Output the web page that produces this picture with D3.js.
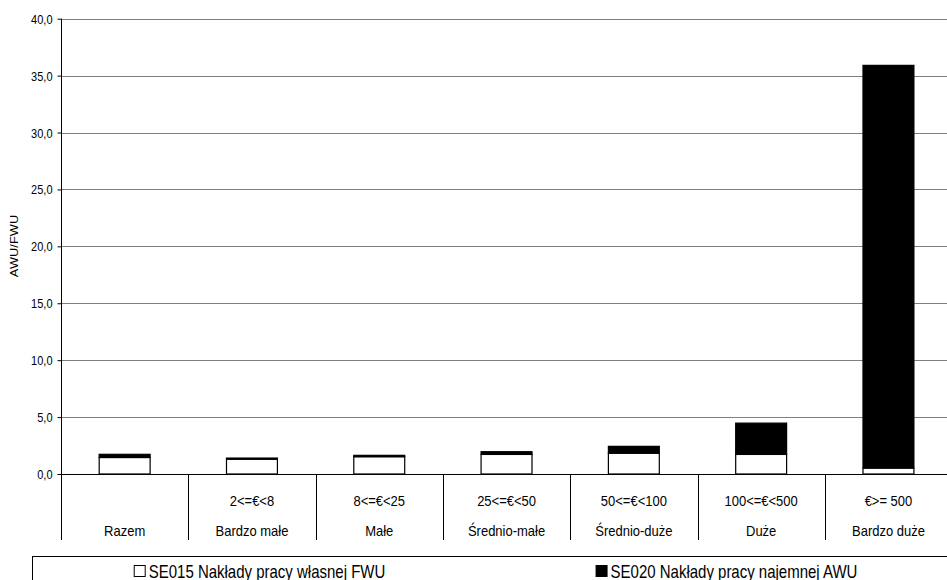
<!DOCTYPE html>
<html>
<head>
<meta charset="utf-8">
<script src="https://cdn.jsdelivr.net/npm/d3@7"></script>
<style>
  body { margin: 0; background: #fff; }
  svg { display: block; font-family: "Liberation Sans", Arial, sans-serif; }
</style>
</head>
<body>
<svg id="chart" width="947" height="580"></svg>
<script>
// categories (bottom row) and size classes (upper row)
const categories = ["Razem", "Bardzo małe", "Małe", "Średnio-małe", "Średnio-duże", "Duże", "Bardzo duże"];
const sizeClasses = ["", "2<=€<8", "8<=€<25", "25<=€<50", "50<=€<100", "100<=€<500", "€>= 500"];

// SE015 own labour (white) and SE020 paid labour (black)
const se015 = [1.45, 1.30, 1.52, 1.72, 1.83, 1.72, 0.52];
const se020 = [0.28, 0.10, 0.12, 0.24, 0.60, 2.75, 35.38];

const yTicks = [0, 5, 10, 15, 20, 25, 30, 35, 40];
const seriesNames = ["SE015 Nakłady pracy własnej FWU", "SE020 Nakłady pracy najemnej AWU"];
const seriesColors = ["#ffffff", "#000000"];

const svg = d3.select("#chart");
const sy = 1.17; // the picture's text is a bit taller than wide

const margin = {left: 61, top: 18.7, bottom: 474};
const x = d3.scaleBand()
	.domain(categories)
	.range([margin.left, margin.left + 7 * 127.3])
	.padding(0);
const y = d3.scaleLinear()
	.domain([0, 40])
	.range([margin.bottom, margin.top]);

const locale = d3.formatLocale({decimal: ",", thousands: " ", grouping: [3], currency: ["", ""]});
const fmt = locale.format(".1f");

// gridlines
svg.append("g")
	.selectAll("line")
	.data(yTicks.filter(d => d > 0))
	.enter().append("line")
		.attr("x1", margin.left)
		.attr("x2", 947)
		.attr("y1", d => Math.round(y(d)) + 0.5)
		.attr("y2", d => Math.round(y(d)) + 0.5)
		.attr("stroke", "#7f7f7f")
		.attr("stroke-width", 1);

// stacked bars
const stacked = categories.map((c, i) => ({cat: c, v: [se015[i], se020[i]]}));
const barW = x.bandwidth() * 0.4;
stacked.forEach((d) => {
	let base = 0;
	d.v.forEach((val, s) => {
		svg.append("rect")
			.attr("x", x(d.cat) + (x.bandwidth() - barW) / 2)
			.attr("y", y(base + val))
			.attr("width", barW)
			.attr("height", y(base) - y(base + val))
			.attr("fill", seriesColors[s])
			.attr("stroke", "#000")
			.attr("stroke-width", 1.2);
		base += val;
	});
});

// y axis
const yAxis = svg.append("g")
	.attr("transform", `translate(${margin.left + 0.5},0)`)
	.call(d3.axisLeft(y).tickValues(yTicks).tickSize(4).tickFormat(fmt));
yAxis.select(".domain").remove();
yAxis.selectAll(".tick line").attr("stroke", "#000");
yAxis.selectAll(".tick text")
	.attr("font-size", 11)
	.attr("font-family", "Liberation Sans, Arial, sans-serif")
	.attr("fill", "#000")
	.attr("x", -9)
	.attr("dy", null)
	.attr("y", 0)
	.attr("transform", `translate(0,4.5) scale(1,${sy})`);

svg.append("line")
	.attr("x1", margin.left + 0.5).attr("x2", margin.left + 0.5)
	.attr("y1", margin.top).attr("y2", 540)
	.attr("stroke", "#000");

// baseline
svg.append("line")
	.attr("x1", margin.left).attr("x2", 947)
	.attr("y1", Math.round(y(0)) + 0.5).attr("y2", Math.round(y(0)) + 0.5)
	.attr("stroke", "#000");

// category separators
svg.append("g")
	.selectAll("line")
	.data(categories.slice(1))
	.enter().append("line")
		.attr("x1", d => Math.round(x(d)) + 0.5)
		.attr("x2", d => Math.round(x(d)) + 0.5)
		.attr("y1", y(0))
		.attr("y2", 540)
		.attr("stroke", "#000");

// category labels, two rows
categories.forEach((c, i) => {
	const cx = x(c) + x.bandwidth() / 2;
	svg.append("text")
		.attr("transform", `translate(${cx},505.5) scale(1,${sy})`)
		.attr("text-anchor", "middle")
		.attr("font-size", 13)
		.text(sizeClasses[i]);
	svg.append("text")
		.attr("transform", `translate(${cx},536) scale(1,${sy})`)
		.attr("text-anchor", "middle")
		.attr("font-size", 13)
		.text(c);
});

// y axis title
svg.append("text")
	.attr("transform", `translate(18,246) scale(1,${sy}) rotate(-90)`)
	.attr("text-anchor", "middle")
	.attr("font-size", 11)
	.text("AWU/FWU");

// legend
svg.append("rect")
	.attr("x", 32.5).attr("y", 556.5)
	.attr("width", 930).attr("height", 40)
	.attr("fill", "none")
	.attr("stroke", "#000");

const legendCenters = [260, 727];
seriesNames.forEach((name, i) => {
	const g = svg.append("g")
		.attr("transform", `translate(${legendCenters[i]},0)`);
	const t = g.append("text")
		.attr("transform", `translate(0,578) scale(1,${sy})`)
		.attr("text-anchor", "middle")
		.attr("font-size", 15)
		.attr("dx", 7)
		.text(name);
	const w = t.node().getComputedTextLength();
	g.append("rect")
		.attr("x", 7 - w / 2 - 14.5)
		.attr("y", 565.5)
		.attr("width", 11)
		.attr("height", 11)
		.attr("fill", seriesColors[i])
		.attr("stroke", "#000");
});
</script>
</body>
</html>
